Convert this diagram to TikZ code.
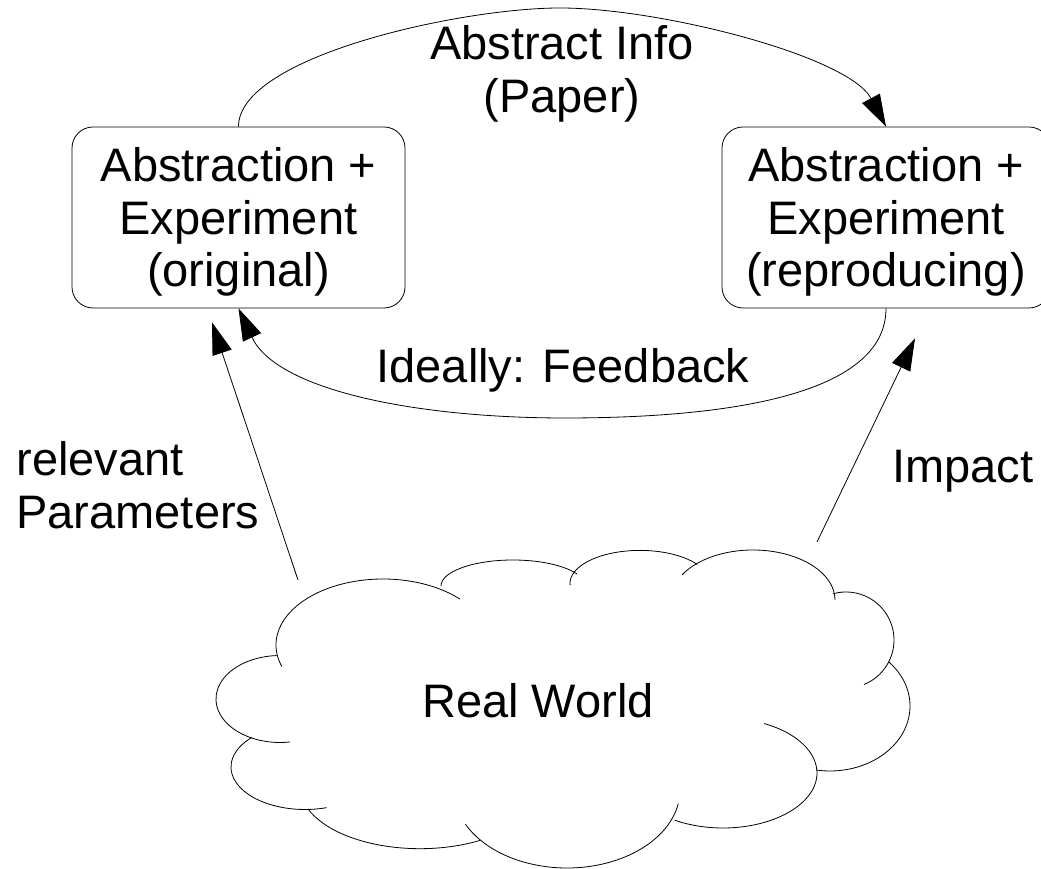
\documentclass[tikz,border=0pt]{standalone}
\usepackage{fontspec}
\setmainfont{Liberation Sans}
\usetikzlibrary{arrows.meta}

\begin{document}
\begin{tikzpicture}[x=1pt, y=1pt, line width=0.8pt,
    font=\fontsize{47}{52.5}\selectfont,
    box/.style={draw, rounded corners=21pt, minimum width=333pt, minimum height=181pt, align=center, inner sep=0pt},
    conn/.style={-{Triangle[length=32pt, width=20pt]}}]
    \clip (0,0) rectangle (1041,869);

    \node[box] (orig) at (238.5,651.5) {\rule{0pt}{43.5pt}Abstraction +\\Experiment\\(original)};
    \node[box, minimum width=328pt] (repro) at (886,651.5) {\rule{0pt}{43.5pt}Abstraction +\\Experiment\\(reproducing)};
    \node[anchor=base] (world) at (538,151) {Real World};

    % cloud puffs: centre / radii / start / end
    \foreach \cx/\cy/\rx/\ry/\sa/\ea in {383/224/107/66/199/44, 513/283/72/26/180/27,
        640/285.6/70/33/183/35, 753/269/82/50/150/0, 846/229/48/48/106/-68,
        830/163/80/65/43/-100, 723/96/94/55/64/-121, 567/79/113/78/206/350,
        420/82.3/120/62/201/300, 305/102/74/42.5/287/136, 280/170/64/43.5/279/93}
        \draw ({\cx+\rx*cos(\sa)},{\cy+\ry*sin(\sa)}) arc[start angle=\sa, end angle=\ea, x radius=\rx, y radius=\ry];

    \coordinate (top) at (560,861);
    \coordinate (bottom) at (565,451);
    \coordinate (paramtail) at (298,289);
    \coordinate (paramtip) at ([shift={(-26.5,-14)}]orig.south);
    \coordinate (impacttail) at (817,327);
    \coordinate (impacttip) at ([shift={(29,-30)}]repro.south);

    \draw[conn](orig.north)to[out=90,in=180,out distance=70,in distance=100](top)
        to[out=0,in=118,out distance=100,in distance=80](repro.north);
    \draw[conn](repro.south)to[out=-90,in=0,out distance=90,in distance=150](bottom)
        to[out=180,in=-65,out distance=150,in distance=90](orig.south);
    \draw[conn](paramtail)--(paramtip);
    \draw[conn](impacttail)--(impacttip);

    \node[align=center] (paper) at (562,795) {Abstract Info\\(Paper)};
    \node[anchor=base] (feedback) at (563,486) {Ideally: Feedback};
    \node[anchor=west, align=left, inner sep=0pt] (params) at (16,384) {relevant\\Parameters};
    \node[anchor=base west, inner sep=0pt] (impact) at (892,386) {Impact};
\end{tikzpicture}
\end{document}
